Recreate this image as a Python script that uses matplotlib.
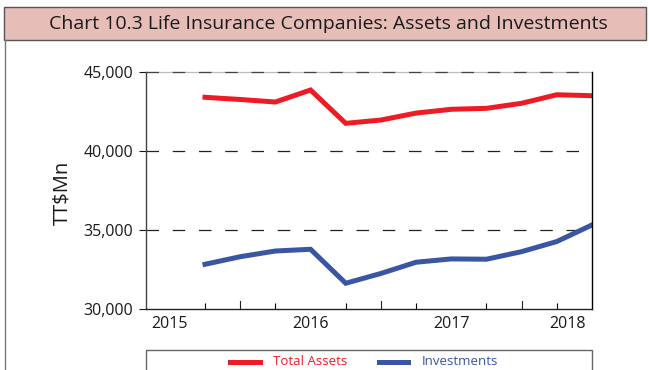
import matplotlib
matplotlib.use("Agg")
import matplotlib.pyplot as plt
from matplotlib.patches import Rectangle
from matplotlib.lines import Line2D
from matplotlib.ticker import FuncFormatter, FixedLocator

plt.rcParams['font.family'] = ['Open Sans', 'DejaVu Sans']

# quarterly series, 2015 Q2 .. 2018 Q1 (TT$ millions)
quarters = list(range(12))
total_assets = [43400, 43260, 43100, 43860, 41750, 41960,
                42400, 42640, 42700, 43020, 43560, 43500]
investments = [32830, 33310, 33670, 33780, 31630, 32250,
               32960, 33170, 33150, 33630, 34270, 35320]
year_labels = ['2015', '2016', '2017', '2018']
year_pos = [-1, 3, 7, 10.3]

W, H = 649, 370
fig = plt.figure(figsize=(W / 100, H / 100), dpi=100)

def px(x0, y0, x1, y1):
    # pixel box -> figure fraction [left, bottom, width, height]
    return [x0 / W, 1 - y1 / H, (x1 - x0) / W, (y1 - y0) / H]

red = '#ED1C24'
blue = '#3A55A4'
ink = '#1a1a1a'

# title band and outer frame
fig.add_artist(Rectangle((4 / W, 1 - 40 / H), (646 - 4) / W, 33 / H,
                         transform=fig.transFigure, facecolor='#E6BDB7',
                         edgecolor='#555555', linewidth=1.0))
fig.add_artist(Line2D([4.5 / W, 4.5 / W], [0, 1 - 40 / H],
                      transform=fig.transFigure, color='#777777', linewidth=1.0))
fig.text(328 / W, 1 - 24 / H, 'Chart 10.3 Life Insurance Companies: Assets and Investments',
         ha='center', va='center', fontsize=14, color=ink)

ax = fig.add_axes(px(146, 72, 592, 309))
ax.plot(quarters, total_assets, color=red, linewidth=3.6, solid_joinstyle='miter')
ax.plot(quarters, investments, color=blue, linewidth=3.6, solid_joinstyle='miter')

ax.set_xlim(-1.677, 11)
ax.set_ylim(30000, 45000)
ax.set_yticks([30000, 35000, 40000, 45000])
ax.yaxis.set_major_formatter(FuncFormatter(lambda v, p: f'{int(v):,}'))
for yv in (35000, 40000):
    ax.axhline(yv, color='#222222', linewidth=0.9, dashes=(10, 11), zorder=0)
# top edge: faint rule with dark dashes over it
ax.axhline(45000, color='#bbbbbb', linewidth=0.9, zorder=0, clip_on=False)
ax.axhline(45000, color='#444444', linewidth=0.9, dashes=(10, 11), zorder=0, clip_on=False)

ax.set_xticks(year_pos)
ax.set_xticklabels(year_labels)
ax.xaxis.set_minor_locator(FixedLocator([q for q in range(-1, 11) if q not in (1, 5, 9)]))
ax.tick_params(axis='x', which='major', length=0, pad=5, labelsize=11.5, colors=ink)
ax.tick_params(axis='x', which='minor', length=4, direction='in', width=0.8)
ax.tick_params(axis='y', length=5, direction='out', width=0.8, pad=4,
               labelsize=11.5, colors=ink)
# taller year-divider ticks
for q in (1, 5, 9):
    ax.plot([q, q], [30000, 30000 + 8 * 5000 / 79], color='#222222',
            linewidth=0.8, clip_on=False)

ax.spines['left'].set_color('#444444')
ax.spines['bottom'].set_color('#222222')
ax.spines['right'].set_color('#000000')
for s in ('left', 'bottom', 'right'):
    ax.spines[s].set_linewidth(1.0)
ax.spines['top'].set_visible(False)

fig.text(62 / W, 1 - 193 / H, 'TT\\$Mn', rotation=90, ha='center', va='center',
         fontsize=14.5, color=ink)

# legend box at the foot of the chart
fig.add_artist(Rectangle((146 / W, -0.05), (592 - 146) / W, 0.05 + 1 - 350 / H,
                         transform=fig.transFigure, facecolor='white',
                         edgecolor='#666666', linewidth=1.0))
ly = 1 - 361.5 / H
fig.add_artist(Line2D([230 / W, 260 / W], [ly, ly], transform=fig.transFigure,
                      color=red, linewidth=3.6))
fig.text(273 / W, ly, 'Total Assets', ha='left', va='center', fontsize=9.5, color=red)
fig.add_artist(Line2D([379 / W, 408 / W], [ly, ly], transform=fig.transFigure,
                      color=blue, linewidth=3.6))
fig.text(422 / W, ly, 'Investments', ha='left', va='center', fontsize=9.5, color=blue)

fig.savefig('out.png', dpi=100)
